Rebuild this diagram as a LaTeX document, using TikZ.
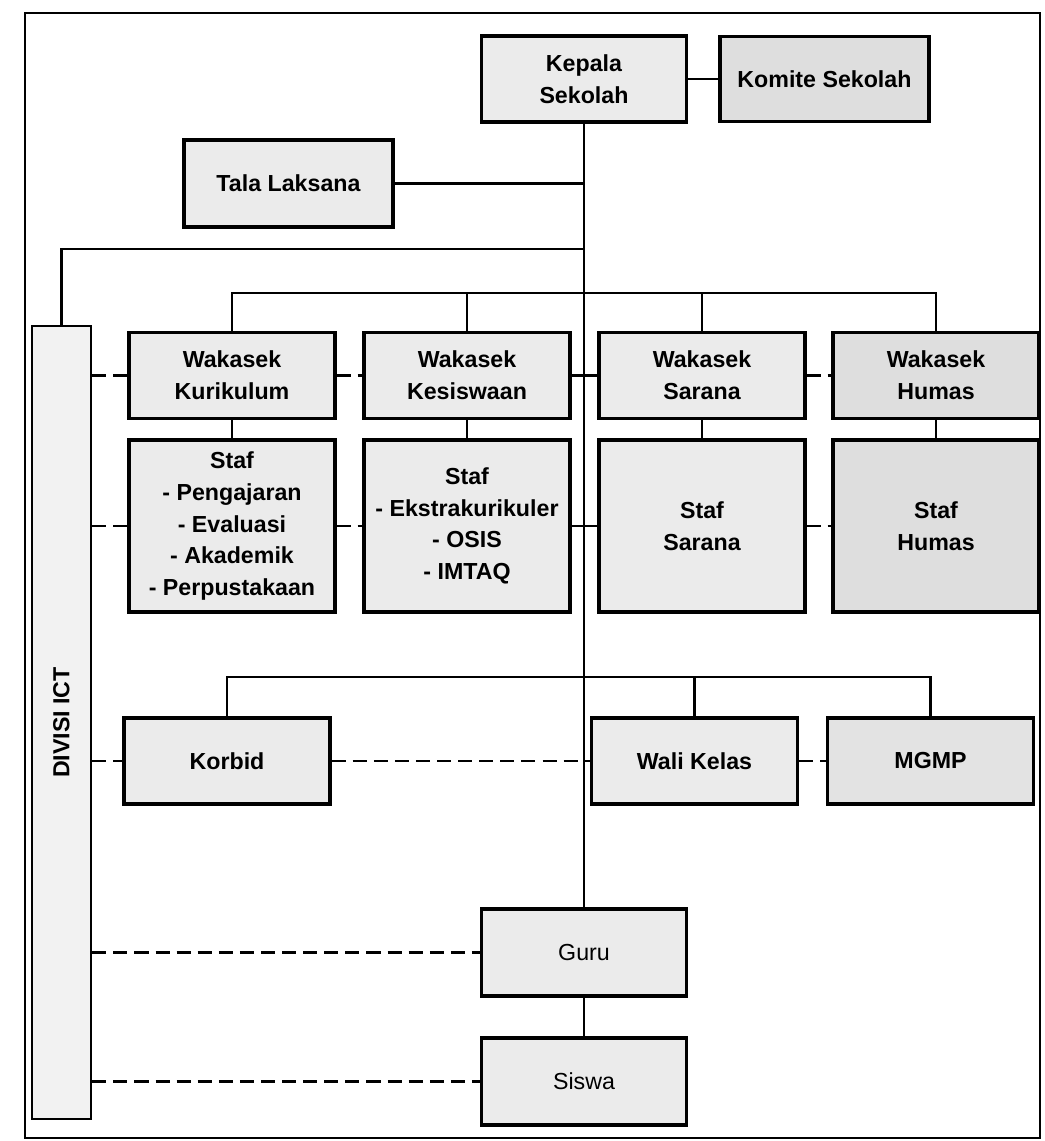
\documentclass[tikz,border=0pt]{standalone}
\usepackage{fontspec}
\setmainfont{Liberation Sans}
\begin{document}
\begin{tikzpicture}[x=0.025cm,y=-0.025cm,
  box/.style={draw, line width=2.2pt, fill=black!8, align=center, inner sep=0pt, font=\bfseries\fontsize{16.5}{22.5}\selectfont},
  wbox/.style={box, minimum width=5.15cm, minimum height=2.15cm},
  sbox/.style={box, minimum width=5.15cm, minimum height=4.3cm},
  lbox/.style={box, minimum width=5.125cm, minimum height=2.175cm, font=\fontsize{16.5}{22.5}\selectfont},
  conn/.style={line width=1.8pt},
  dconn/.style={line width=1.8pt, dash pattern=on 10pt off 5pt}]
\useasboundingbox (0,0) rectangle (1044,1141);
\draw[line width=1.6pt] (25,13) rectangle (1040,1138);

% top
\node[box, minimum width=5.125cm, minimum height=2.15cm] (kepala) at (584,79) {Kepala\\Sekolah};
\node[box, minimum width=5.225cm, minimum height=2.125cm, fill=black!13] (komite) at (824.5,79) {Komite Sekolah};
\node[box, minimum width=5.225cm, minimum height=2.175cm] (tala) at (288.5,183.5) {Tala Laksana};
\node[box, minimum width=1.475cm, minimum height=19.825cm, line width=1.8pt, fill=black!5] (ict) at (61.5,722.5) {\rotatebox{90}{DIVISI ICT}};

% wakasek row
\node[wbox] (wkur) at (232,375.5) {Wakasek\\Kurikulum};
\node[wbox] (wkes) at (467,375.5) {Wakasek\\Kesiswaan};
\node[wbox] (wsar) at (702,375.5) {Wakasek\\Sarana};
\node[wbox, fill=black!13] (whum) at (936,375.5) {Wakasek\\Humas};

% staf row
\node[sbox] (skur) at (232,526) {Staf\\- Pengajaran\\- Evaluasi\\- Akademik\\- Perpustakaan};
\node[sbox] (skes) at (467,526) {Staf\\- Ekstrakurikuler\\- OSIS\\- IMTAQ};
\node[sbox] (ssar) at (702,526) {Staf\\Sarana};
\node[sbox, fill=black!13] (shum) at (936,526) {Staf\\Humas};

% bottom row
\node[wbox] (korbid) at (227,761) {Korbid};
\node[wbox] (wali) at (694.5,761) {Wali Kelas};
\node[wbox, fill=black!11] (mgmp) at (930.5,761) {MGMP};

\node[lbox] (guru) at (584,952.5) {Guru};
\node[lbox] (siswa) at (584,1081.5) {Siswa};

% solid connectors
\draw[conn] (kepala.east) -- (komite.west);
\draw[conn] (kepala.south) -- (guru.north);
\draw[conn] (guru.south) -- (siswa.north);
\draw[conn] (tala.east) -- (tala.east -| kepala.south);
\coordinate (ictj) at (584,249);
\draw[conn] (ictj) -| (ict.north);

\coordinate (wbus) at (0,293);
\draw[conn] (wkur.north) -- (wkur.north |- wbus) -- (whum.north |- wbus) -- (whum.north);
\draw[conn] (wkes.north) -- (wkes.north |- wbus);
\draw[conn] (wsar.north) -- (wsar.north |- wbus);
\foreach \n in {kur,kes,sar,hum}{\draw[conn] (w\n.south) -- (s\n.north);}

\coordinate (bbus) at (0,677);
\draw[conn] (korbid.north) -- (korbid.north |- bbus) -- (mgmp.north |- bbus) -- (mgmp.north);
\draw[conn] (wali.north) -- (wali.north |- bbus);

% dashed connectors
\draw[dconn] (ict.east |- wkur.west) -- (wkur.west);
\draw[dconn] (wkur.east) -- (wkes.west);
\draw[dconn] (wkes.east) -- (wkes.east -| kepala.south);
\draw[conn] (wkes.east -| kepala.south) -- (wsar.west);
\draw[dconn] (wsar.east) -- (whum.west);

\draw[dconn] (ict.east |- skur.west) -- (skur.west);
\draw[dconn] (skur.east) -- (skes.west);
\draw[dconn] (skes.east) -- (skes.east -| kepala.south);
\draw[conn] (skes.east -| kepala.south) -- (ssar.west);
\draw[dconn] (ssar.east) -- (shum.west);

\draw[dconn] (ict.east |- korbid.west) -- (korbid.west);
\draw[dconn] (korbid.east) -- (korbid.east -| kepala.south);
\draw[conn] (korbid.east -| kepala.south) -- (wali.west);
\draw[dconn] (wali.east) -- (mgmp.west);

\draw[dconn] (ict.east |- guru.west) -- (guru.west);
\draw[dconn] (ict.east |- siswa.west) -- (siswa.west);
\end{tikzpicture}
\end{document}
